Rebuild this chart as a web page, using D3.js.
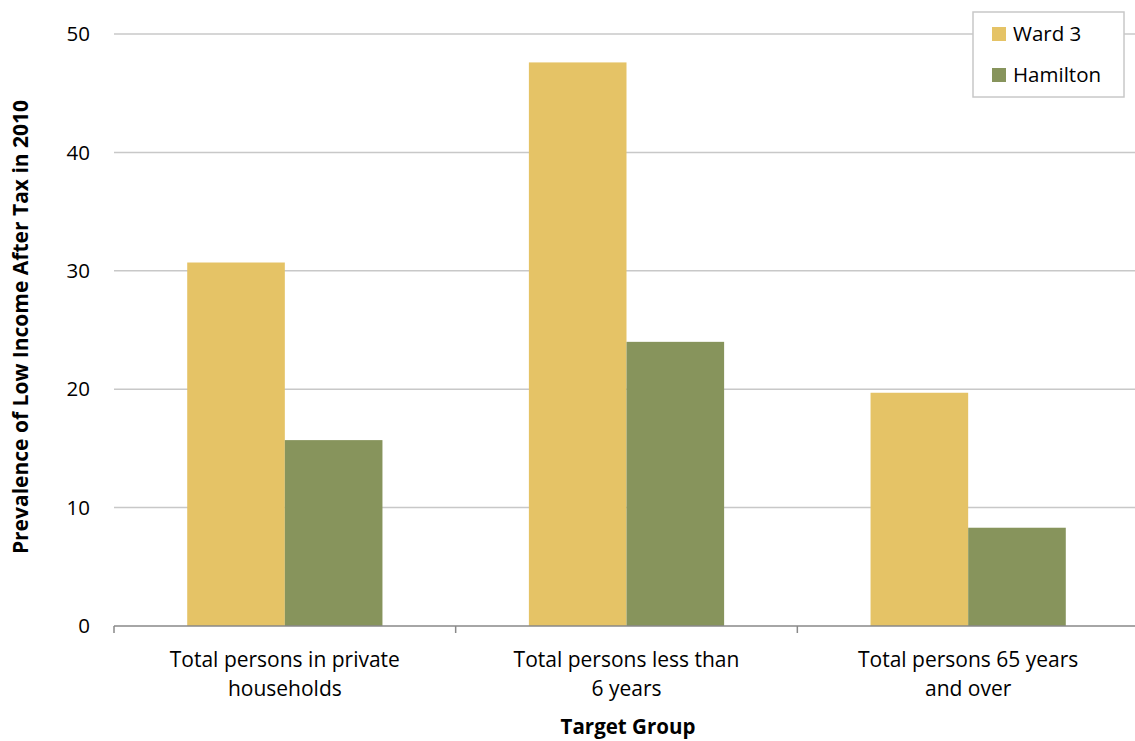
<!DOCTYPE html>
<html><head><meta charset="utf-8">
<script src="https://cdn.jsdelivr.net/npm/d3@7"></script>
<style>body{margin:0;background:#fff}svg{display:block}text{font-family:"Open Sans",sans-serif;fill:#000}</style>
</head><body>
<svg id="c" width="1135" height="741"></svg>
<script>
const categories = [["Total persons in private","households"],["Total persons less than","6 years"],["Total persons 65 years","and over"]];
const seriesNames = ["Ward 3","Hamilton"];
const ward3 = [30.7, 47.6, 19.7];
const hamilton = [15.7, 24.0, 8.3];
const colors = ["#E5C366","#87945C"];
const yTicks = [0,10,20,30,40,50];

const svg = d3.select("#c");
const m = {left:114, right:1139, top:34, bottom:626};
const x = d3.scaleBand().domain(d3.range(categories.length)).range([m.left, m.right]).paddingInner(0).paddingOuter(0);
const inner = d3.scaleBand().domain(d3.range(seriesNames.length)).range([0, x.bandwidth()]).paddingOuter(0.75).paddingInner(0);
const y = d3.scaleLinear().domain([0,50]).range([m.bottom, m.top]);

svg.append("g").selectAll("line").data(yTicks.filter(d=>d>0)).join("line")
  .attr("x1", m.left).attr("x2", m.right).attr("y1", d=>y(d)).attr("y2", d=>y(d))
  .attr("stroke","#c8c8c8").attr("stroke-width",1.5);

svg.append("g").selectAll("text").data(yTicks).join("text")
  .attr("x", 90).attr("y", d=>y(d)).attr("dy","0.35em").attr("text-anchor","end")
  .attr("font-size",20.5).text(d=>d);

const data = [ward3, hamilton];
data.forEach((vals, si) => {
  svg.append("g").selectAll("rect").data(vals).join("rect")
    .attr("x", (d,i)=>x(i)+inner(si)).attr("width", inner.bandwidth())
    .attr("y", d=>y(d)).attr("height", d=>y(0)-y(d)).attr("fill", colors[si]);
});

const xa = svg.append("g").attr("transform",`translate(0,${m.bottom})`);
xa.append("line").attr("x1",m.left).attr("x2",m.right).attr("stroke","#898989").attr("stroke-width",1.5);
const tickXs = d3.range(categories.length+1).map(i=> i<categories.length ? x(i) : m.right);
xa.selectAll("line.t").data(tickXs).join("line").attr("class","t")
  .attr("x1",d=>d).attr("x2",d=>d).attr("y1",0).attr("y2",7).attr("stroke","#898989").attr("stroke-width",1.5);
xa.selectAll("text").data(categories).join("text")
  .attr("text-anchor","middle").attr("font-size",21)
  .attr("transform",(d,i)=>`translate(${x(i)+x.bandwidth()/2},0)`)
  .each(function(d){
    d3.select(this).selectAll("tspan").data(d).join("tspan")
      .attr("x",0).attr("y",(t,j)=>41+j*29).text(t=>t);
  });

svg.append("text").attr("x",628).attr("y",734).attr("text-anchor","middle")
  .attr("font-size",20.5).attr("font-weight","bold").text("Target Group");
svg.append("text").attr("transform","translate(28,327) rotate(-90)").attr("text-anchor","middle")
  .attr("font-size",21).attr("font-weight","bold").text("Prevalence of Low Income After Tax in 2010");

const lg = svg.append("g").attr("transform","translate(973,12)");
lg.append("rect").attr("width",151).attr("height",85).attr("fill","#fff").attr("stroke","#c8c8c8").attr("stroke-width",1.5);
seriesNames.forEach((s,i)=>{
  lg.append("rect").attr("x",19).attr("y",15+i*41).attr("width",14).attr("height",14).attr("fill",colors[i]);
  lg.append("text").attr("x",40).attr("y",22+i*41).attr("dy","0.35em").attr("font-size",20.5).text(s);
});
</script>
</body></html>
